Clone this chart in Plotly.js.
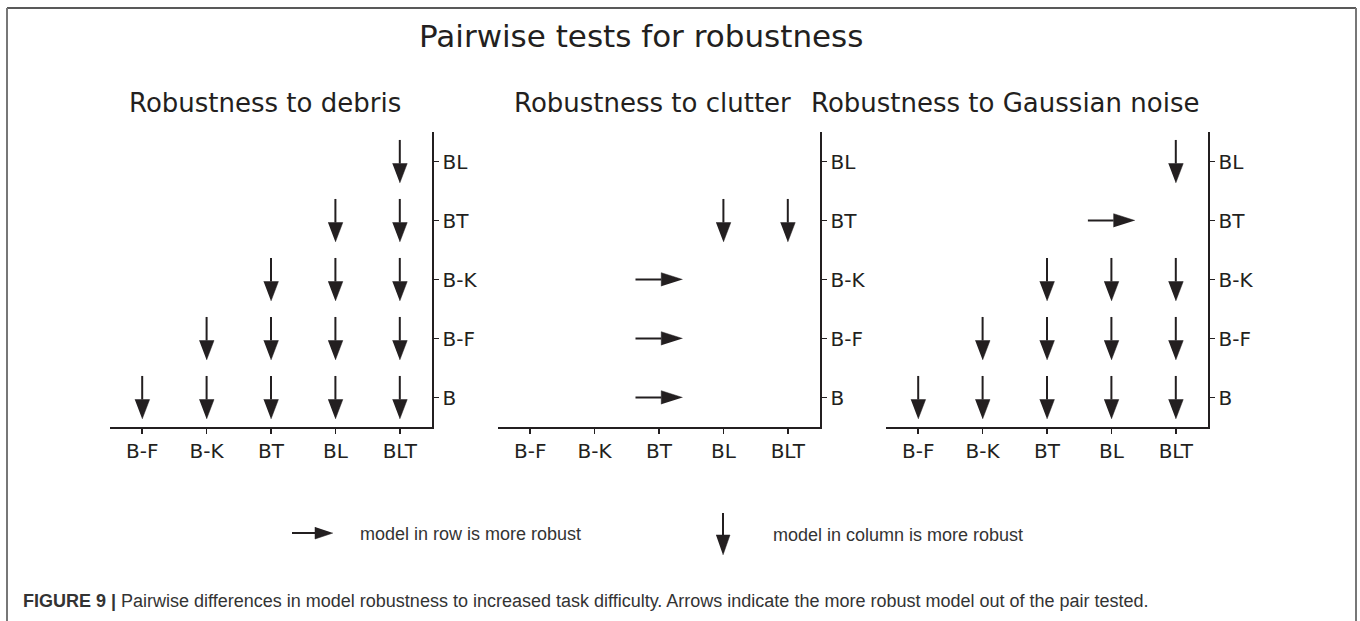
<!DOCTYPE html>
<html>
<head>
<meta charset="utf-8">
<script src="https://cdn.plot.ly/plotly-3.0.1.min.js"></script>
<style>html,body{margin:0;padding:0;background:#fff}</style>
</head>
<body>
<div id="chart" style="width:1360px;height:621px"></div>
<script>
// ---------------- data ----------------
const rowLabels = ['B', 'B-F', 'B-K', 'BT', 'BL'];          // y axis (bottom to top)
const colLabels = ['B-F', 'B-K', 'BT', 'BL', 'BLT'];        // x axis
const panelTitles = ['Robustness to debris', 'Robustness to clutter', 'Robustness to Gaussian noise'];
const mainTitle = 'Pairwise tests for robustness';
// 'v' = model in column is more robust (down arrow), '>' = model in row is more robust (right arrow)
const debris = [
  ['v', 'v', 'v', 'v', 'v'],  // B
  ['',  'v', 'v', 'v', 'v'],  // B-F
  ['',  '',  'v', 'v', 'v'],  // B-K
  ['',  '',  '',  'v', 'v'],  // BT
  ['',  '',  '',  '',  'v']   // BL
];
const clutter = [
  ['', '', '>', '',  ''],
  ['', '', '>', '',  ''],
  ['', '', '>', '',  ''],
  ['', '', '',  'v', 'v'],
  ['', '', '',  '',  '']
];
const gaussian = [
  ['v', 'v', 'v', 'v', 'v'],
  ['',  'v', 'v', 'v', 'v'],
  ['',  '',  'v', 'v', 'v'],
  ['',  '',  '',  '>', ''],
  ['',  '',  '',  '',  'v']
];
const legendTexts = ['model in row is more robust', 'model in column is more robust'];
const captionBold = 'FIGURE 9 |';
const captionText = 'Pairwise differences in model robustness to increased task difficulty. Arrows indicate the more robust model out of the pair tested.';

// ---------------- style ----------------
const INK = '#231f20';
const W = 1360, H = 621;
const HALF = 0.365, HEAD = 0.33, HW = 0.115;   // arrow geometry in data units
const panelsPx = [[110, 432], [498, 820], [886, 1208]];
const titleX = [265, 652, 1005];
const yTopPx = 132, yBotPx = 427;

function addArrow(acc, x0, y0, x1, y1, headLen, headHalf) {
  if (x0 === x1) {
    const d = Math.sign(y1 - y0), b = y1 - d * headLen;
    acc.sx.push(x0, x0, null); acc.sy.push(y0, b, null);
    acc.hx.push(x1 - headHalf, x1 + headHalf, x1, null); acc.hy.push(b, b, y1, null);
  } else {
    const d = Math.sign(x1 - x0), b = x1 - d * headLen;
    acc.sx.push(x0, b, null); acc.sy.push(y0, y0, null);
    acc.hx.push(b, b, x1, null); acc.hy.push(y1 - headHalf, y1 + headHalf, y1, null);
  }
}
function arrowTraces(acc, xa, ya) {
  return [
    {x: acc.sx, y: acc.sy, xaxis: xa, yaxis: ya, mode: 'lines', line: {color: INK, width: 2}, hoverinfo: 'skip', connectgaps: false},
    {x: acc.hx, y: acc.hy, xaxis: xa, yaxis: ya, mode: 'lines', fill: 'toself', fillcolor: INK, line: {color: INK, width: 0.5}, hoverinfo: 'skip', connectgaps: false}
  ];
}

const traces = [];
[debris, clutter, gaussian].forEach((m, p) => {
  const acc = {sx: [], sy: [], hx: [], hy: []};
  m.forEach((row, r) => row.forEach((v, c) => {
    if (v === 'v') addArrow(acc, c, r + HALF, c, r - HALF, HEAD, HW);
    else if (v === '>') addArrow(acc, c - HALF, r, c + HALF, r, HEAD, HW);
  }));
  const s = p === 0 ? '' : String(p + 1);
  traces.push(...arrowTraces(acc, 'x' + s, 'y' + s));
});
// legend glyphs (pixel axes)
const leg = {sx: [], sy: [], hx: [], hy: []};
addArrow(leg, 292, 533, 333, 533, 18, 6);
addArrow(leg, 723, 513, 723, 555, 20, 7);
traces.push(...arrowTraces(leg, 'x4', 'y4'));

const layout = {
  width: W, height: H,
  margin: {l: 0, r: 0, t: 0, b: 0},
  paper_bgcolor: '#fff', plot_bgcolor: 'rgba(0,0,0,0)',
  showlegend: false,
  font: {family: 'DejaVu Sans', color: INK},
  annotations: [],
  shapes: [
    {type: 'line', xref: 'x4', yref: 'y4', x0: 7, x1: 1356, y0: 8, y1: 8, line: {color: '#222', width: 1.5}},
    {type: 'line', xref: 'x4', yref: 'y4', x0: 7, x1: 7, y0: 8, y1: 621, line: {color: '#777', width: 2}},
    {type: 'line', xref: 'x4', yref: 'y4', x0: 1356, x1: 1356, y0: 8, y1: 621, line: {color: '#777', width: 2}}
  ],
  xaxis4: {domain: [0, 1], range: [0, W], visible: false, fixedrange: true, anchor: 'y4'},
  yaxis4: {domain: [0, 1], range: [H, 0], visible: false, fixedrange: true, anchor: 'x4'}
};
const axCommon = {
  range: [-0.5, 4.5], showline: true, linecolor: INK, linewidth: 1.5,
  ticks: 'outside', ticklen: 5, tickwidth: 1.5, tickcolor: INK,
  showgrid: false, zeroline: false, fixedrange: true,
  tickfont: {family: 'DejaVu Sans', size: 20, color: INK}
};
panelsPx.forEach((px, p) => {
  const s = p === 0 ? '' : String(p + 1);
  layout['xaxis' + s] = Object.assign({}, axCommon, {
    domain: [px[0] / W, px[1] / W], anchor: 'y' + s,
    tickvals: colLabels.map((_, i) => i), ticktext: colLabels
  });
  layout['yaxis' + s] = Object.assign({}, axCommon, {
    domain: [1 - yBotPx / H, 1 - yTopPx / H], anchor: 'x' + s, side: 'right',
    tickvals: rowLabels.map((_, i) => i), ticktext: rowLabels
  });
  layout.annotations.push({
    xref: 'x4', yref: 'y4', x: titleX[p], y: 103, xanchor: 'center', yanchor: 'middle',
    text: panelTitles[p], showarrow: false, font: {family: 'DejaVu Sans', size: 26, color: INK}
  });
});
layout.annotations.push(
  {xref: 'x4', yref: 'y4', x: 641, y: 36, xanchor: 'center', yanchor: 'middle', text: mainTitle,
   showarrow: false, font: {family: 'DejaVu Sans', size: 31, color: INK}},
  {xref: 'x4', yref: 'y4', x: 358, y: 534, xanchor: 'left', yanchor: 'middle', text: legendTexts[0],
   showarrow: false, font: {family: 'Liberation Sans', size: 18, color: '#333'}},
  {xref: 'x4', yref: 'y4', x: 771, y: 535, xanchor: 'left', yanchor: 'middle', text: legendTexts[1],
   showarrow: false, font: {family: 'Liberation Sans', size: 18, color: '#333'}},
  {xref: 'x4', yref: 'y4', x: 21, y: 601, xanchor: 'left', yanchor: 'middle',
   text: '<b>' + captionBold + '</b> ' + captionText,
   showarrow: false, font: {family: 'Liberation Sans', size: 18, color: '#333'}}
);

Plotly.newPlot('chart', traces, layout, {displayModeBar: false, staticPlot: true});
</script>
</body>
</html>
